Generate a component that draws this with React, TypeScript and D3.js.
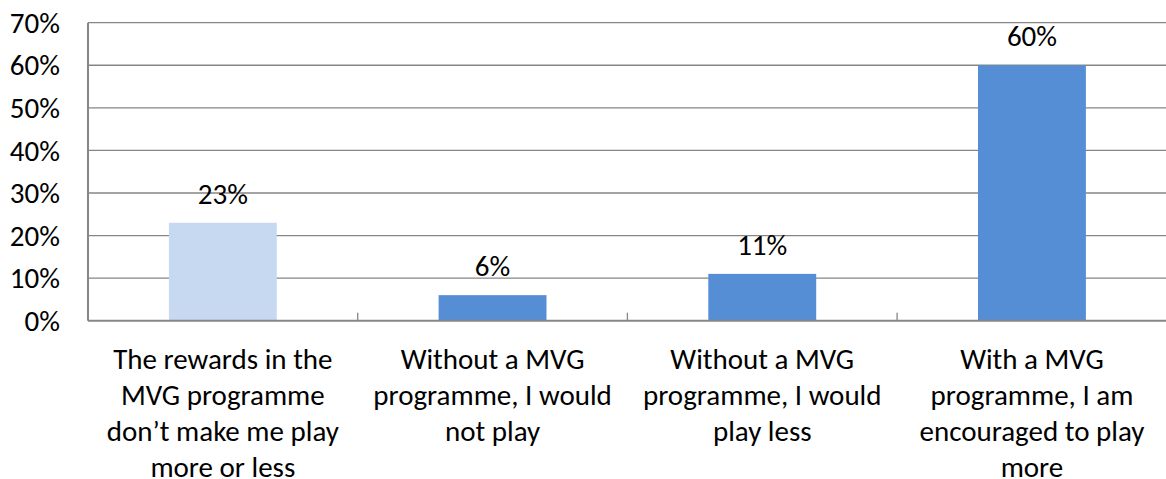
import React from "react";
import * as d3 from "d3";

// Survey responses about the MVG rewards programme
const categoryLines: string[][] = [
  ["The rewards in the", "MVG programme", "don\u2019t make me play", "more or less"],
  ["Without a MVG", "programme, I would", "not play"],
  ["Without a MVG", "programme, I would", "play less"],
  ["With a MVG", "programme, I am", "encouraged to play", "more"],
];
const shares: number[] = [0.23, 0.06, 0.11, 0.6];
const barColors: string[] = ["#C6D9F1", "#558ED5", "#558ED5", "#558ED5"];
const yTicks: number[] = [0, 0.1, 0.2, 0.3, 0.4, 0.5, 0.6, 0.7];

const W = 1166;
const H = 479;
const margin = { left: 88, right: 0, top: 22.7, bottom: 158.3 };
const FONT = "Carlito, Calibri, Lato, sans-serif";
const FS = 29;
const GRID = "#868686";

export default function App() {
  const x0 = margin.left;
  const x1 = W - margin.right + 0.8;
  const x = d3
    .scaleBand<number>()
    .domain(d3.range(shares.length))
    .range([x0, x1])
    .paddingInner(0.6)
    .paddingOuter(0.3);
  const y = d3.scaleLinear().domain([0, 0.7]).range([H - margin.bottom, margin.top]);
  const pct = d3.format(".0%");
  const boundaries = d3.range(1, shares.length + 1).map((i) => x0 + (i * (x1 - x0)) / shares.length);

  return (
    <svg
      width={W}
      height={H}
      style={{ position: "absolute", left: 0, top: 0, background: "#fff" }}
      fontFamily={FONT}
      fontSize={FS}
    >
      {/* horizontal gridlines */}
      {yTicks.slice(1).map((t) => (
        <line key={"g" + t} x1={x0} x2={W} y1={y(t)} y2={y(t)} stroke={GRID} strokeWidth={1.3} />
      ))}
      {/* bars */}
      {shares.map((v, i) => (
        <rect
          key={"b" + i}
          x={x(i)}
          y={y(v)}
          width={x.bandwidth()}
          height={y(0) - y(v)}
          fill={barColors[i]}
        />
      ))}
      {/* axes */}
      <line x1={x0} x2={x0} y1={y(0.7)} y2={y(0)} stroke={GRID} strokeWidth={2} />
      <line x1={x0} x2={W} y1={y(0)} y2={y(0)} stroke={GRID} strokeWidth={2} />
      {boundaries.map((bx, i) => (
        <line key={"t" + i} x1={bx} x2={bx} y1={y(0)} y2={y(0) - 8} stroke={GRID} strokeWidth={1.3} />
      ))}
      {/* y tick labels */}
      {yTicks.map((t) => (
        <text key={"y" + t} x={60} y={y(t)} dy="0.35em" textAnchor="end" fill="#000">
          {pct(t)}
        </text>
      ))}
      {/* value labels */}
      {shares.map((v, i) => (
        <text
          key={"v" + i}
          x={(x(i) as number) + x.bandwidth() / 2}
          y={y(v) - 19}
          textAnchor="middle"
          fill="#000"
        >
          {pct(v)}
        </text>
      ))}
      {/* category labels */}
      {categoryLines.map((lines, i) => (
        <text key={"c" + i} textAnchor="middle" fill="#000">
          {lines.map((ln, j) => (
            <tspan key={j} x={(x(i) as number) + x.bandwidth() / 2} y={369 + j * 36}>
              {ln}
            </tspan>
          ))}
        </text>
      ))}
    </svg>
  );
}
